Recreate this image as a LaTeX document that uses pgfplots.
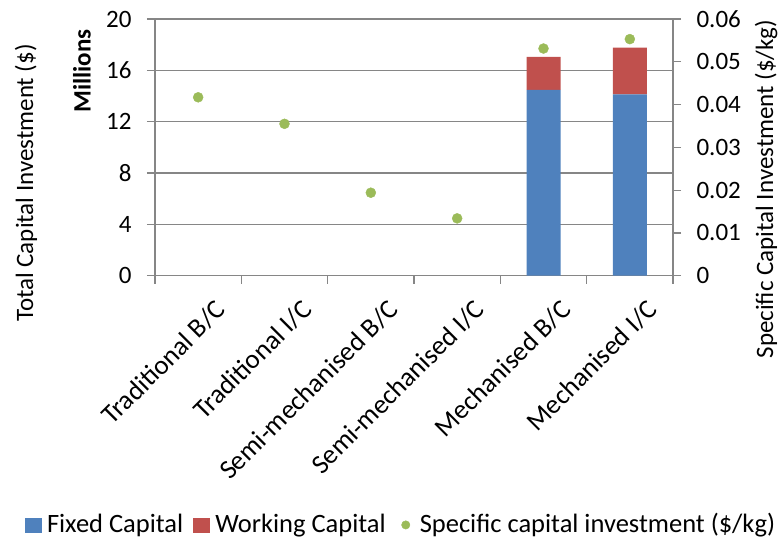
\documentclass[border=0pt]{standalone}
\usepackage{fontspec}
\setmainfont{Carlito}
\usepackage{pgfplots}
\pgfplotsset{compat=1.18}

\definecolor{fixedblue}{RGB}{79,129,189}
\definecolor{workred}{RGB}{192,80,77}
\definecolor{specgreen}{RGB}{155,187,89}
\definecolor{axisgray}{RGB}{134,134,134}

\newcommand{\chartfont}{\fontsize{25}{30}\selectfont}
\newcommand{\catfont}{\fontsize{27}{32}\selectfont}
\newcommand{\legendfont}{\fontsize{26.5}{31}\selectfont}

\begin{document}
\begin{tikzpicture}[font=\chartfont]
\useasboundingbox (-155pt,-263.3pt) rectangle (626pt,275.7pt);

% Left axis: stacked capital investment bars (millions of $)
\begin{axis}[
  at={(0pt,0pt)}, anchor=south west,
  scale only axis, width=518pt, height=256.7pt,
  xmin=-0.5, xmax=5.5, ymin=0, ymax=20,
  ybar stacked, bar width=34pt,
  xtick={0,1,2,3,4,5},
  xticklabels={Traditional B/C, Traditional I/C, Semi-mechanised B/C,
               Semi-mechanised I/C, Mechanised B/C, Mechanised I/C},
  minor xtick={-0.5,0.5,1.5,2.5,3.5,4.5,5.5},
  major x tick style={draw=none},
  minor x tick style={draw=axisgray, line width=1.2pt},
  ytick={0,4,8,12,16,20},
  ytick style={draw=axisgray, line width=1.2pt},
  xtick pos=bottom, ytick pos=left,
  tick align=outside,
  major tick length=8pt, minor tick length=8pt,
  ymajorgrids,
  grid style={draw=axisgray, line width=1.2pt},
  axis line style={draw=axisgray, line width=1.2pt},
  /pgf/number format/assume math mode=true,
  tick label style={font=\chartfont},
  xticklabel style={font=\catfont, rotate=45, anchor=north east, inner sep=2pt,
                    xshift=3pt, yshift=-19pt},
  yticklabel style={xshift=-12pt},
]
\addplot[fill=fixedblue, draw=none] coordinates {
  (0,0) (1,0) (2,0) (3,0) (4,14.47) (5,14.13)};
\addplot[fill=workred, draw=none] coordinates {
  (0,0) (1,0) (2,0) (3,0) (4,2.57) (5,3.64)};
\end{axis}

% Right axis: specific capital investment ($/kg)
\begin{axis}[
  at={(0pt,0pt)}, anchor=south west,
  scale only axis, width=518pt, height=256.7pt,
  xmin=-0.5, xmax=5.5, ymin=0, ymax=0.06,
  axis x line=none, axis y line*=right,
  scaled y ticks=false,
  ytick={0,0.01,0.02,0.03,0.04,0.05,0.06},
  yticklabels={0,0.01,0.02,0.03,0.04,0.05,0.06},
  ytick style={draw=axisgray, line width=1.2pt},
  tick align=outside, major tick length=8pt,
  axis line style={draw=axisgray, line width=1.2pt},
  /pgf/number format/assume math mode=true,
  tick label style={font=\chartfont},
  yticklabel style={xshift=12pt},
  legend style={at={(0.473,-0.967)}, anchor=center, draw=none,
    font=\legendfont, legend columns=3,
    nodes={inner xsep=0pt, inner ysep=2pt},
    /tikz/every odd column/.append style={column sep=6pt},
    /tikz/every even column/.append style={column sep=10pt},
    inner sep=0pt},
  legend cell align=left,
]
\addlegendimage{legend image code/.code={\fill[fixedblue] (0pt,-8pt) rectangle (15.7pt,6pt);}}
\addlegendentry{Fixed Capital}
\addlegendimage{legend image code/.code={\fill[workred] (0pt,-8pt) rectangle (15.7pt,6pt);}}
\addlegendentry{Working Capital}
\addplot[only marks, mark=*, mark size=5pt, color=specgreen,
  legend image code/.code={\path[draw=none, fill=none] (0pt,0pt) rectangle (18pt,0.1pt);
                           \fill[specgreen] (10pt,-1pt) circle (4.2pt);}]
  coordinates {
  (0,0.0417) (1,0.0355) (2,0.0194) (3,0.0134) (4,0.0531) (5,0.0553)};
\addlegendentry{Specific capital investment (\$/kg)}
\end{axis}

% Axis titles
\node[rotate=90, anchor=center] at (-129pt,92.7pt) {Total Capital Investment (\$)};
\node[rotate=90, anchor=center, font=\chartfont\bfseries] at (-73pt,204.7pt) {Millions};
\node[rotate=90, anchor=center] at (611pt,86.7pt) {Specific Capital Investment (\$/kg)};
\end{tikzpicture}
\end{document}
